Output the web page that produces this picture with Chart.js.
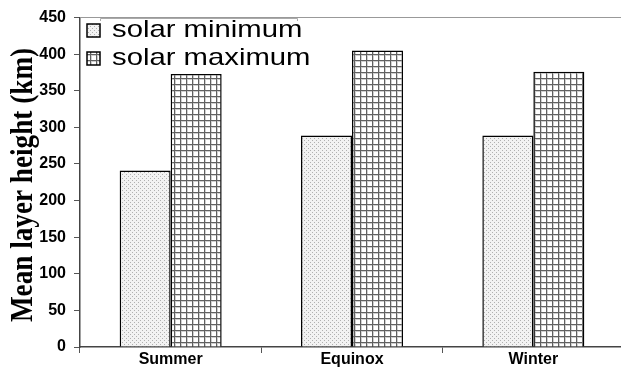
<!DOCTYPE html>
<html>
<head>
<meta charset="utf-8">
<script src="https://cdn.jsdelivr.net/npm/chart.js@4.4.0/dist/chart.umd.min.js"></script>
<style>
  html, body { margin: 0; padding: 0; background: #fff; overflow: hidden; }
  #wrap { width: 624px; height: 370px; }
</style>
</head>
<body>
<div id="wrap"><canvas id="heightChart" width="624" height="370"></canvas></div>
<script>
// === Chart data ===
const seasons = ["Summer", "Equinox", "Winter"];
const solarMin = [241, 289, 289];
const solarMax = [373, 405, 376];
const yTicks = [0, 50, 100, 150, 200, 250, 300, 350, 400, 450];
const yTitle = "Mean layer height (km)";

// === Fill patterns (stipple for minimum, grid for maximum) ===
function makeDots() {
  const c = document.createElement("canvas");
  c.width = 4; c.height = 4;
  const g = c.getContext("2d");
  g.fillStyle = "#f2f2f2";
  g.fillRect(0, 0, 4, 4);
  g.fillStyle = "#b0b0b0";
  g.fillRect(0, 0, 1, 1);
  g.fillRect(2, 2, 1, 1);
  return g.createPattern(c, "repeat");
}

function makeGrid() {
  const c = document.createElement("canvas");
  c.width = 6; c.height = 6;
  const g = c.getContext("2d");
  g.fillStyle = "#ffffff";
  g.fillRect(0, 0, 6, 6);
  g.fillStyle = "#cfcfcf";
  g.fillRect(0, 1, 6, 1);
  g.fillRect(1, 0, 1, 6);
  g.fillStyle = "#606060";
  g.fillRect(0, 0, 6, 1);
  g.fillRect(0, 0, 1, 6);
  return g.createPattern(c, "repeat");
}

const dotFill = makeDots();
const gridFill = makeGrid();

// === Extra drawing: top frame, legend box inside the plot, rotated y title ===
const extras = {
  id: "extras",
  afterDraw(chart) {
    const ctx = chart.ctx;
    const area = chart.chartArea;
    ctx.save();
    // top frame line
    ctx.strokeStyle = "#999";
    ctx.lineWidth = 1;
    ctx.beginPath();
    ctx.moveTo(area.left, Math.round(area.top) - 0.5);
    ctx.lineTo(area.right, Math.round(area.top) - 0.5);
    ctx.stroke();
    // legend border (only its top edge shows)
    ctx.strokeStyle = "#aaa";
    ctx.beginPath();
    ctx.moveTo(100.5, 21);
    ctx.lineTo(100.5, 18.5);
    ctx.lineTo(297.5, 18.5);
    ctx.lineTo(297.5, 21);
    ctx.stroke();
    // legend entries
    chart.data.datasets.forEach((ds, i) => {
      const base = 37 + i * 28;
      ctx.fillStyle = ds.backgroundColor;
      ctx.fillRect(87, base - 13, 13, 13);
      ctx.strokeStyle = "#000";
      ctx.lineWidth = 1.5;
      ctx.strokeRect(87, base - 13, 13, 13);
      ctx.save();
      ctx.translate(112, base);
      ctx.scale(1.22, 1);
      ctx.fillStyle = "#000";
      ctx.font = "24px 'Liberation Sans', Arial, sans-serif";
      ctx.textBaseline = "alphabetic";
      ctx.fillText(ds.label, 0, 0);
      ctx.restore();
    });
    // y axis title
    ctx.translate(32, 185);
    ctx.rotate(-Math.PI / 2);
    ctx.scale(0.85, 1);
    ctx.fillStyle = "#000";
    ctx.font = "bold 32px 'Liberation Serif', 'Times New Roman', serif";
    ctx.textAlign = "center";
    ctx.textBaseline = "alphabetic";
    ctx.fillText(yTitle, 0, 0);
    ctx.restore();
  },
};

const ctx = document.getElementById("heightChart").getContext("2d");

new Chart(ctx, {
  type: "bar",
  data: {
    labels: seasons,
    datasets: [
      {
        label: "solar minimum",
        data: solarMin,
        backgroundColor: dotFill,
        borderColor: "#000",
        borderWidth: 1.5,
        borderSkipped: "bottom",
      },
      {
        label: "solar maximum",
        data: solarMax,
        backgroundColor: gridFill,
        borderColor: "#000",
        borderWidth: 1.5,
        borderSkipped: "bottom",
      },
    ],
  },
  options: {
    responsive: false,
    animation: false,
    devicePixelRatio: 1,
    layout: { padding: { left: 0, right: 0, top: 13, bottom: 0 } },
    categoryPercentage: 0.5625,
    barPercentage: 1.0,
    scales: {
      x: {
        grid: {
          offset: true,
          drawOnChartArea: false,
          drawTicks: true,
          tickLength: 6,
          color: "#555",
        },
        border: { color: "#444", width: 1.5 },
        ticks: {
          color: "#000",
          padding: -3,
          font: { family: "'Liberation Sans', Arial, sans-serif", size: 16, weight: "bold" },
        },
        afterFit: (scale) => { scale.height = 23; },
      },
      y: {
        min: 0,
        max: 450,
        afterBuildTicks: (scale) => {
          scale.ticks = yTicks.map((v) => ({ value: v }));
        },
        grid: {
          drawOnChartArea: false,
          drawTicks: true,
          tickLength: 6,
          color: "#555",
        },
        border: { color: "#444", width: 1.5 },
        ticks: {
          color: "#000",
          padding: 8,
          font: { family: "'Liberation Sans', Arial, sans-serif", size: 16, weight: "bold" },
        },
        afterFit: (scale) => { scale.width = 80; },
      },
    },
    plugins: {
      legend: { display: false },
      tooltip: { enabled: false },
    },
  },
  plugins: [extras],
});
</script>
</body>
</html>
